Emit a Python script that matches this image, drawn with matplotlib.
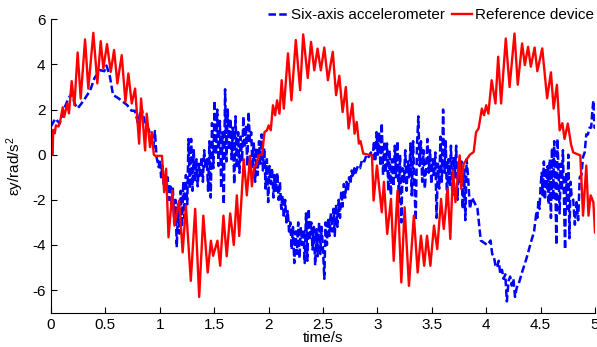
import matplotlib
matplotlib.use("Agg")
import matplotlib.pyplot as plt

# ---------------- data ----------------
ref_t = [0.0, 0.015, 0.02, 0.035, 0.045, 0.07, 0.085, 0.108, 0.12, 0.15, 0.165, 0.19, 0.215, 0.245,
         0.273, 0.313, 0.343, 0.389, 0.426, 0.457, 0.481, 0.515, 0.549, 0.58, 0.61, 0.65, 0.684,
         0.711, 0.742, 0.773, 0.81, 0.828, 0.865, 0.88, 0.91, 0.926, 0.945, 0.96, 1.02, 1.04,
         1.058, 1.08, 1.116, 1.134, 1.178, 1.21, 1.24, 1.285, 1.325, 1.362, 1.40, 1.44, 1.47,
         1.49, 1.53, 1.555, 1.585, 1.615, 1.647, 1.68, 1.708, 1.73, 1.772, 1.80, 1.83, 1.846,
         1.867, 1.886, 1.907, 1.94, 1.962, 1.985, 2.0, 2.02, 2.04, 2.06, 2.078, 2.10, 2.12, 2.14,
         2.178, 2.21, 2.25, 2.29, 2.318, 2.36, 2.39, 2.42, 2.45, 2.48, 2.512, 2.545, 2.59, 2.62,
         2.65, 2.68, 2.71, 2.735, 2.77, 2.79, 2.81, 2.83, 2.845, 2.87, 2.95, 2.965, 2.996, 3.04,
         3.06, 3.09, 3.125, 3.15, 3.185, 3.22, 3.25, 3.29, 3.335, 3.37, 3.40, 3.43, 3.456, 3.487,
         3.52, 3.55, 3.585, 3.61, 3.646, 3.67, 3.695, 3.717, 3.756, 3.77, 3.793, 3.824, 3.85,
         3.885, 3.907, 3.93, 3.96, 3.98, 4.0, 4.02, 4.05, 4.085, 4.11, 4.137, 4.18, 4.215, 4.26,
         4.29, 4.33, 4.355, 4.385, 4.41, 4.445, 4.47, 4.515, 4.56, 4.595, 4.62, 4.65, 4.675, 4.70,
         4.72, 4.75, 4.78, 4.80, 4.865, 4.89, 4.92, 4.94, 4.96, 4.985, 5.0]
ref_y = [0.0, 0.0, 1.1, 0.95, 1.3, 1.25, 1.5, 2.1, 1.67, 2.27, 1.83, 3.26, 2.19, 4.53,
         2.49, 5.11, 2.93, 5.40, 3.16, 5.03, 3.82, 4.9, 3.67, 4.64, 3.16, 4.41, 2.34,
         3.6, 2.27, 2.93, 0.49, 2.49, 0.19, 1.82, 0.34, 1.0, 0.0, -0.05, -0.05, -1.66,
         -0.62, -3.66, -1.59, -3.14, -2.03, -4.33, -2.25, -5.59, -2.4, -6.3, -2.7, -5.22, -3.81,
         -4.48, -3.81, -4.92, -2.7, -4.5, -2.6, -4.0, -1.8, -3.6, -0.2, -1.8, -0.05, -1.4,
         -0.5, -0.5, -0.03, 0.0, 1.0, 1.08, 1.3, 1.08, 2.19, 1.75, 2.41, 1.82, 3.3, 2.04,
         4.49, 2.41, 5.08, 2.86, 5.33, 3.4, 5.0, 3.74, 4.7, 3.74, 4.75, 3.3, 4.56, 2.64,
         3.5, 1.89, 3.0, 1.16, 2.27, 0.93, 1.45, 0.49, 0.6, 0.05, -0.03, -2.03, -0.48, -2.55,
         -1.2, -3.51, -1.96, -4.7, -1.59, -5.66, -2.33, -5.81, -2.7, -5.22, -3.59, -4.92, -3.59, -4.92,
         -3.14, -4.18, -1.96, -3.29, -1.51, -3.73, -0.7, -2.1, -0.03, -1.51, -0.4, -0.18, 0.0,
         0.12, 1.0, 1.16, 2.04, 1.75, 2.19, 1.82, 3.3, 2.27, 4.34, 2.27, 5.15, 3.0, 5.37,
         3.1, 4.93, 3.97, 4.78, 3.9, 4.75, 3.7, 4.71, 2.5, 3.65, 2.04, 3.1, 1.08, 1.4,
         0.7, 1.38, 0.45, 0.1, -0.03, -2.7, -0.48, -2.7, -1.8, -2.1, -3.44]

acc_t = [0.0, 0.04, 0.08, 0.11, 0.16, 0.19, 0.22, 0.245, 0.30, 0.36, 0.40, 0.45, 0.49, 0.51, 0.54,
         0.57, 0.62, 0.70, 0.74, 0.77, 0.80, 0.83, 0.86, 0.88, 0.90, 0.92, 0.94, 0.955, 0.97, 0.99,
         1.0, 1.012, 1.024, 1.036, 1.048, 1.06, 1.072, 1.084, 1.096, 1.108, 1.12, 1.132, 1.144,
         1.156, 1.168, 1.18, 1.192, 1.204, 1.216, 1.228, 1.24, 1.252, 1.264, 1.276, 1.288, 1.30,
         1.312, 1.324, 1.336, 1.348, 1.36, 1.372, 1.384, 1.396, 1.408, 1.42, 1.432, 1.444, 1.456,
         1.468, 1.48, 1.492, 1.504, 1.516, 1.528, 1.54, 1.552, 1.564, 1.576, 1.588, 1.60, 1.612,
         1.624, 1.636, 1.648, 1.66, 1.672, 1.684, 1.696, 1.708, 1.72, 1.732, 1.744, 1.756, 1.768,
         1.78, 1.792, 1.804, 1.816, 1.828, 1.84, 1.852, 1.864, 1.876, 1.888, 1.90, 1.912, 1.924,
         1.936, 1.948, 1.96, 1.972, 1.984, 1.996, 2.008, 2.02, 2.032, 2.044, 2.056, 2.068, 2.08,
         2.092, 2.104, 2.116, 2.128, 2.14, 2.152, 2.164, 2.176, 2.188, 2.20, 2.212, 2.224, 2.236,
         2.248, 2.26, 2.272, 2.284, 2.296, 2.308, 2.32, 2.332, 2.344, 2.356, 2.368, 2.38, 2.392,
         2.404, 2.416, 2.428, 2.44, 2.452, 2.464, 2.476, 2.488, 2.50, 2.512, 2.524, 2.536, 2.548,
         2.56, 2.572, 2.584, 2.596, 2.608, 2.62, 2.632, 2.644, 2.656, 2.668, 2.68, 2.692, 2.704,
         2.716, 2.728, 2.74, 2.752, 2.764, 2.776, 2.788, 2.80, 2.82, 2.84, 2.86, 2.88, 2.90, 2.92,
         2.94, 2.956, 2.968, 2.98, 2.992, 3.004, 3.016, 3.028, 3.04, 3.052, 3.064, 3.076, 3.088,
         3.10, 3.112, 3.124, 3.136, 3.148, 3.16, 3.172, 3.184, 3.196, 3.208, 3.22, 3.232, 3.244,
         3.256, 3.268, 3.28, 3.292, 3.304, 3.316, 3.328, 3.34, 3.352, 3.364, 3.376, 3.388, 3.40,
         3.412, 3.424, 3.436, 3.448, 3.46, 3.472, 3.484, 3.496, 3.508, 3.52, 3.532, 3.544, 3.556,
         3.568, 3.58, 3.592, 3.604, 3.616, 3.628, 3.64, 3.652, 3.664, 3.676, 3.688, 3.70, 3.712,
         3.724, 3.736, 3.748, 3.76, 3.772, 3.784, 3.796, 3.808, 3.82, 3.834, 3.85, 3.87, 3.90,
         3.92, 3.95, 3.98, 4.01, 4.04, 4.055, 4.07, 4.085, 4.10, 4.115, 4.13, 4.145, 4.16, 4.175,
         4.19, 4.205, 4.22, 4.235, 4.25, 4.265, 4.28, 4.30, 4.33, 4.37, 4.41, 4.44, 4.46, 4.47,
         4.48, 4.49, 4.50, 4.51, 4.52, 4.53, 4.54, 4.55, 4.56, 4.565, 4.575, 4.585, 4.595, 4.605,
         4.615, 4.625, 4.635, 4.645, 4.655, 4.665, 4.675, 4.685, 4.695, 4.705, 4.715, 4.725,
         4.735, 4.745, 4.755, 4.765, 4.775, 4.785, 4.80, 4.815, 4.83, 4.845, 4.86, 4.875, 4.89,
         4.905, 4.92, 4.935, 4.95, 4.965, 4.975, 4.985, 4.995, 5.0]
acc_y = [1.26, 1.6, 1.38, 1.9, 2.5, 2.7, 2.25, 2.05, 2.4, 2.85, 3.4, 3.75, 3.7, 3.95, 3.5,
         2.65, 2.5, 2.2, 1.95, 1.95, 1.4, 2.1, 1.5, 1.3, 1.1, 0.6, 0.3, 1.05, -0.1, -0.55,
         -0.2, -1.0, -0.4, -1.3, -0.9, -1.6, -1.0, -2.0, -1.3, -2.4, -1.5, -3.0, -2.0,
         -4.1, -2.2, -3.5, -1.6, -3.2, -1.2, -2.8, -0.9, -2.2, 0.7, -1.5, 0.7, -1.6,
         0.2, -1.2, -0.2, -1.4, -0.4, -1.0, -0.1, -1.2, 0.2, -0.6, -0.2, -1.6, 0.6,
         -1.9, 1.4, -0.6, 2.4, 0.0, 2.0, -0.5, 1.5, -1.5, 1.0, -2.2, 2.9, -0.3,
         2.0, 0.2, 1.6, -0.2, 1.2, -1.3, 1.7, -0.6, 1.0, -0.8, 0.8, -0.3, 1.7,
         0.3, 1.3, -0.5, 1.9, 0.6, 1.0, -0.6, 0.5, -1.2, 0.3, -0.9, 0.6, -0.4,
         0.9, -0.7, 0.3, -1.5, -0.2, -2.1, -0.5, -1.3, -0.6, -1.9, -0.9, -1.6, -0.8,
         -2.0, -1.2, -2.4, -1.8, -2.8, -2.0, -3.0, -2.5, -3.4, -3.0, -4.2, -3.2, -4.8,
         -3.4, -4.4, -3.0, -4.6, -3.2, -4.0, -3.3, -4.8, -2.6, -4.7, -2.4, -3.8, -3.0,
         -4.2, -3.2, -4.9, -3.3, -4.5, -3.0, -4.4, -3.2, -4.2, -5.5, -3.0, -4.0, -2.8,
         -3.6, -2.6, -3.4, -2.4, -3.6, -2.2, -3.2, -2.0, -2.8, -1.6, -2.3, -1.3, -1.9,
         -1.2, -1.6, -1.0, -1.3, -0.7, -1.0, -0.6, -0.8, -0.5, -0.6, -0.2, -0.3, 0.0, -0.1,
         0.1, -0.2, 0.6, -0.3, 1.0, 0.0, 1.0, -0.5, 1.4, -0.9, 0.6, -0.8, 0.5,
         -1.6, 0.2, -1.8, -0.2, -1.4, 0.4, -1.0, 0.6, -2.1, 0.0, -3.0, -0.6, -1.2,
         0.2, -1.6, -0.3, -1.0, 0.5, -1.8, 0.6, -1.4, -2.9, 0.4, 1.7, -0.5, 0.6,
         -1.2, 0.2, -1.5, -0.6, 0.7, -0.8, 0.2, -1.3, -0.2, -1.0, 0.1, -2.8, -0.4,
         -1.5, 0.8, -1.2, 2.0, -0.8, 0.6, -2.2, -0.2, -1.4, 0.4, -1.8, -0.1, -1.0,
         0.4, -2.0, -0.4, -1.2, -0.3, -2.4, -0.6, -2.9, -0.2, -1.0, -2.4, -1.9, -2.2,
         -2.4, -3.8, -3.9, -4.0, -3.8, -4.4, -4.5, -4.9, -5.0, -4.7, -5.3, -5.1, -5.5, -5.3,
         -6.5, -5.6, -5.4, -5.8, -5.5, -6.3, -5.9, -5.7, -5.2, -4.6, -3.9, -3.4, -2.6, -2.8,
         -2.0, -2.4, -1.4, -0.8, -1.8, -0.3, -2.0, -0.6, -1.6, -0.5, -2.2, -0.2, -2.8, 0.3,
         -2.0, 0.6, -1.2, -4.0, 0.7, -0.8, -2.6, -0.4, -1.6, 0.2, -2.0, -4.2,
         -0.8, -2.4, 0.0, -3.7, -1.2, -1.8, -2.0, -3.1, -2.1, -2.9, -1.0, -0.9, -0.1,
         0.1, 0.9, 0.9, 1.2, 1.2, 1.9, 2.4, 1.2, 1.2]

xticks = [0, 0.5, 1, 1.5, 2, 2.5, 3, 3.5, 4, 4.5, 5]
xticklabels = ["0", "0.5", "1", "1.5", "2", "2.5", "3", "3.5", "4", "4.5", "5"]
yticks = [-6, -4, -2, 0, 2, 4, 6]
yticklabels = ["-6", "-4", "-2", "0", "2", "4", "6"]

# ---------------- plot ----------------
plt.rcParams['font.family'] = ['Liberation Sans', 'DejaVu Sans']
plt.rcParams['mathtext.fontset'] = 'custom'
plt.rcParams['mathtext.rm'] = 'Liberation Sans'
plt.rcParams['mathtext.it'] = 'Liberation Sans:italic'

fig = plt.figure(figsize=(5.97, 3.47), dpi=100)
ax = fig.add_axes([51/597, 1 - 312.7/347, 544/597, (312.7 - 19.3)/347])

l1, = ax.plot(acc_t, acc_y, color=(0, 0, 1), linestyle='--', linewidth=1.8,
              dashes=(3.0, 1.3), label='Six-axis accelerometer')
l2, = ax.plot(ref_t, ref_y, color=(1, 0, 0), linestyle='-', linewidth=1.7,
              label='Reference device')

ax.set_xlim(0, 5)
ax.set_ylim(-7, 6)
ax.set_xticks(xticks)
ax.set_xticklabels(xticklabels)
ax.set_yticks(yticks)
ax.set_yticklabels(yticklabels)
ax.tick_params(direction='in', length=4, width=0.8, labelsize=11, colors='black', pad=4)
for s in ['top', 'right']:
    ax.spines[s].set_visible(False)
for s in ['left', 'bottom']:
    ax.spines[s].set_linewidth(0.8)

ax.set_xlabel('time/s', fontsize=11, labelpad=-1)
ax.set_ylabel(r'εy/rad/s$^2$', fontsize=11, labelpad=4)

fig.legend(handles=[l1, l2], loc='center right', bbox_to_anchor=(0.997, 1 - 15/347),
           ncol=2, frameon=False, fontsize=11, handlelength=1.3, handletextpad=0.2,
           columnspacing=0.45, borderpad=0.0, borderaxespad=0.1)

fig.savefig('out.png', dpi=100)
